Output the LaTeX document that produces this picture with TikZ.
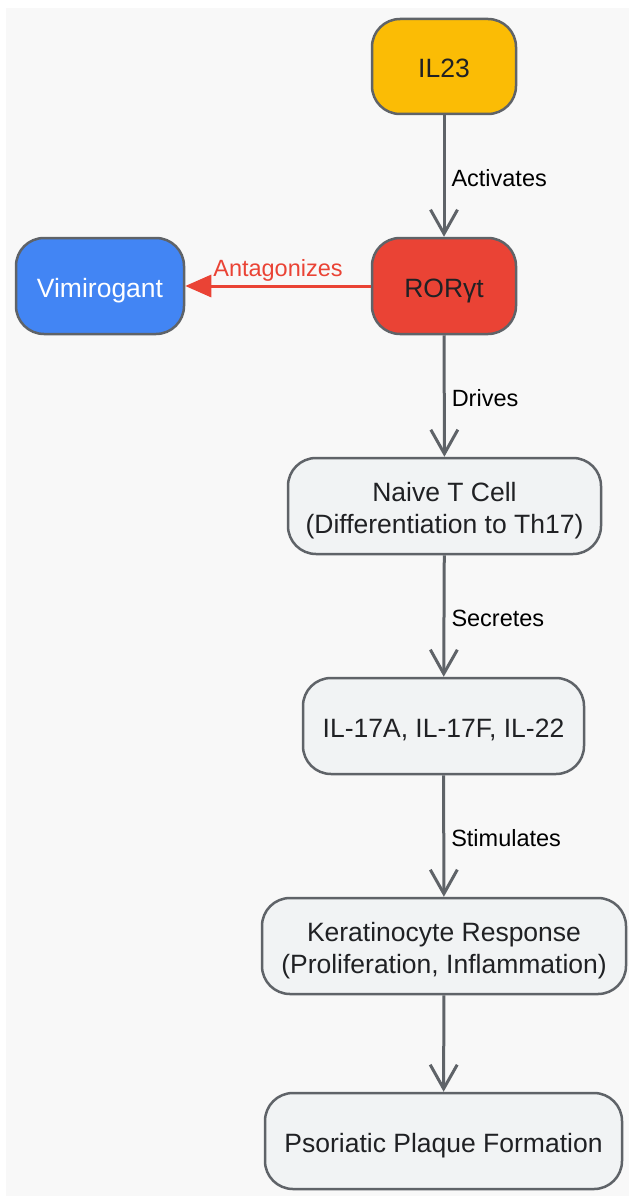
\documentclass[tikz,border=0pt]{standalone}
\usepackage{fontspec}
\setmainfont{Liberation Sans}
\usepackage{tikz}
\usetikzlibrary{shapes,arrows.meta}

\definecolor{edgegrey}{HTML}{5F6368}
\definecolor{textdark}{HTML}{202124}
\definecolor{boxlight}{HTML}{F1F3F4}
\definecolor{bggrey}{HTML}{F8F8F8}
\definecolor{gyellow}{HTML}{FBBC05}
\definecolor{gred}{HTML}{EA4335}
\definecolor{gblue}{HTML}{4285F4}

\tikzset{
  box/.style={draw=edgegrey, line width=2.5pt, rectangle, rounded corners=28pt,
    minimum height=96pt, fill=boxlight, text=textdark, align=center,
    text height=24pt, text depth=2pt,
    font=\fontsize{26.5}{32}\selectfont},
  twoline/.style={text height=56pt, text depth=2pt},
  flow/.style={draw=edgegrey, line width=3pt, -{Straight Barb[length=24pt,width=27pt]}},
  flowlabel/.style={midway, right, inner sep=6pt, yshift=-2pt, text=black, font=\fontsize{23.5}{28}\selectfont},
  antag/.style={draw=gred, line width=3pt, -{Triangle[length=26pt,width=22pt]}}
}

\begin{document}
\begin{tikzpicture}[x=1pt, y=-1pt]
    \useasboundingbox (0, 0) rectangle (629, 1196);
    \fill[white] (0, 0) rectangle (629, 1196);
    \fill[bggrey] (6, 8) rectangle (629, 1196);

    \node[box, fill=gyellow, minimum width=144pt, minimum height=95pt] (il23) at (444, 66.5) {IL23};
    \node[box, fill=gred, minimum width=144pt] (ror) at (444, 286) {ROR\char"03B3 t};
    \node[box, fill=gblue, text=white, minimum width=168pt] (vimi) at (100, 286) {Vimirogant};
    \node[box, twoline, minimum width=313pt] (naive) at (444.5, 506) {Naive T Cell\\(Differentiation to Th17)};
    \node[box, minimum width=281pt] (il17) at (443.5, 726) {IL-17A, IL-17F, IL-22};
    \node[box, twoline, minimum width=364pt] (kera) at (444, 946) {Keratinocyte Response\\(Proliferation, Inflammation)};
    \node[box, minimum width=357pt] (plaque) at (443.5, 1141) {Psoriatic Plaque Formation};

    \draw[flow] (il23) -- node[flowlabel] {Activates} (ror);
    \draw[antag] (ror) -- node[midway, above, inner sep=3pt, text=gred, font=\fontsize{23.5}{28}\selectfont] {Antagonizes} (vimi);
    \draw[flow] (ror) -- node[flowlabel] {Drives} (naive);
    \draw[flow] (naive) -- node[flowlabel] {Secretes} (il17);
    \draw[flow] (il17) -- node[flowlabel] {Stimulates} (kera);
    \draw[flow] (kera) -- (plaque);
\end{tikzpicture}
\end{document}
